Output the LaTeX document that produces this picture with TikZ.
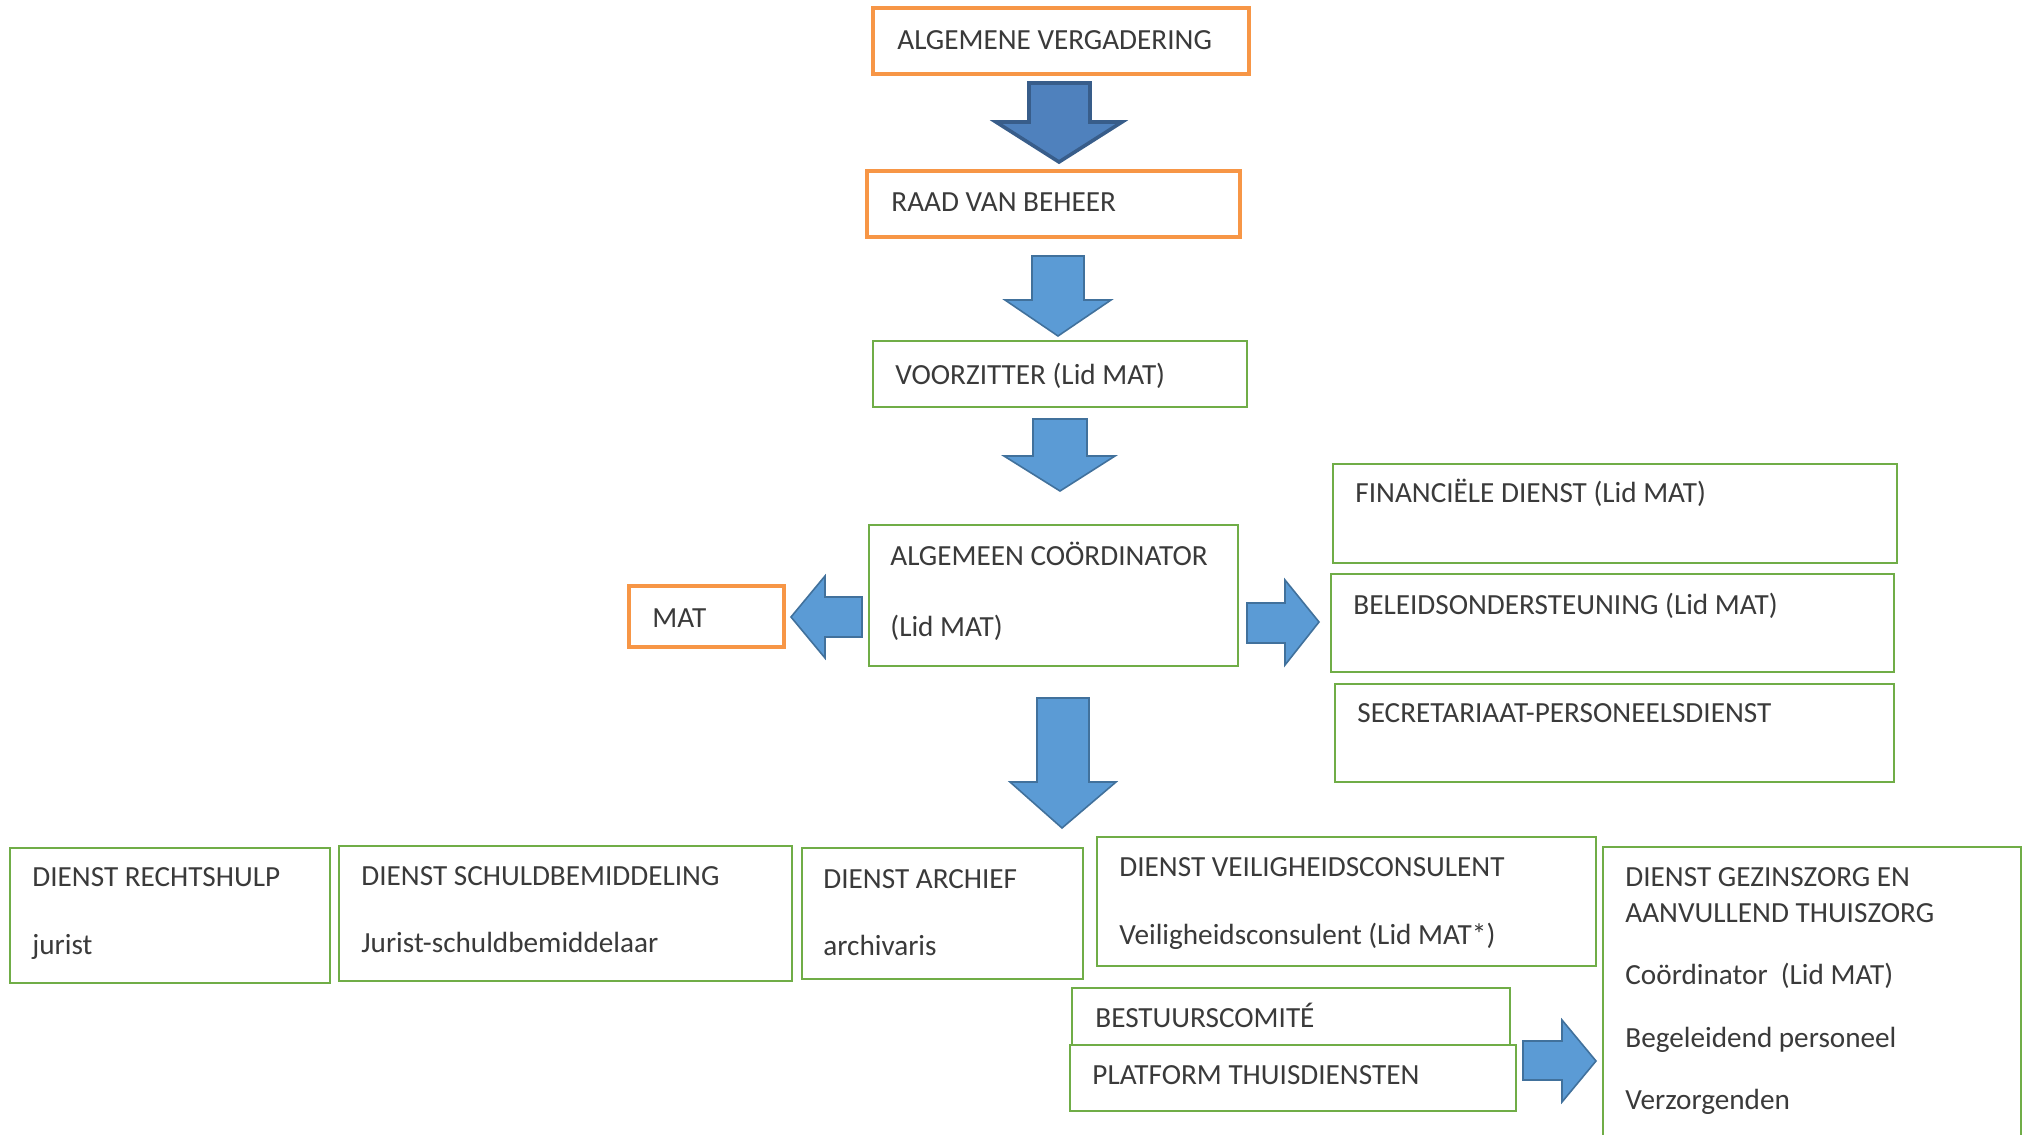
\documentclass[tikz,border=0pt]{standalone}
\usepackage{fontspec}
\setmainfont{Carlito}
\definecolor{txt}{HTML}{3A3A3A}
\definecolor{orng}{HTML}{F79646}
\definecolor{grn}{HTML}{70AD47}
\definecolor{afill}{HTML}{5B9BD5}
\definecolor{aline}{HTML}{41719C}
\definecolor{dfill}{HTML}{4F81BD}
\definecolor{dline}{HTML}{385D8A}
\begin{document}
\begin{tikzpicture}[x=0.5pt,y=-0.5pt,
  obox/.style={draw=orng,line width=2pt,fill=white},
  gbox/.style={draw=grn,line width=1.2pt,fill=white},
  lbl/.style={anchor=base west,inner sep=0pt,text=txt,font=\fontsize{14.6}{17}\selectfont},
  barrow/.style={fill=afill,draw=aline,line width=0.8pt,line join=miter},
  darrow/.style={fill=dfill,draw=dline,line width=1.8pt,line join=miter}]
\useasboundingbox (0,0) rectangle (2026,1135);

% boxes
\draw[obox] (873,8) rectangle (1249,74);
\node[lbl] (av) at (897,49) {ALGEMENE VERGADERING};
\draw[obox] (867,171) rectangle (1240,237);
\node[lbl] (rvb) at (891,211) {RAAD VAN BEHEER};
\draw[gbox] (873,341) rectangle (1247,407);
\node[lbl] (vz) at (895,384) {VOORZITTER (Lid MAT)};
\draw[gbox] (869,525) rectangle (1238,666);
\node[lbl] (ac1) at (890,565) {ALGEMEEN COÖRDINATOR};
\node[lbl] (ac2) at (890,636) {(Lid MAT)};
\draw[obox] (629,586) rectangle (784,647);
\node[lbl] (mat) at (652,627) {MAT};

\draw[gbox] (1333,464) rectangle (1897,563);
\node[lbl] (fin) at (1355,502) {FINANCIËLE DIENST (Lid MAT)};
\draw[gbox] (1331,574) rectangle (1894,672);
\node[lbl] (bel) at (1353,614) {BELEIDSONDERSTEUNING (Lid MAT)};
\draw[gbox] (1335,684) rectangle (1894,782);
\node[lbl] (sec) at (1357,722) {SECRETARIAAT-PERSONEELSDIENST};

\draw[gbox] (10,848) rectangle (330,983);
\node[lbl] (r1) at (32,886) {DIENST RECHTSHULP};
\node[lbl] (r2) at (32,954) {jurist};
\draw[gbox] (339,846) rectangle (792,981);
\node[lbl] (s1) at (361,885) {DIENST SCHULDBEMIDDELING};
\node[lbl] (s2) at (361,952) {Jurist-schuldbemiddelaar};
\draw[gbox] (802,848) rectangle (1083,979);
\node[lbl] (a1) at (823,888) {DIENST ARCHIEF};
\node[lbl] (a2) at (823,955) {archivaris};
\draw[gbox] (1097,837) rectangle (1596,966);
\node[lbl] (v1) at (1119,876) {DIENST VEILIGHEIDSCONSULENT};
\node[lbl] (v2) at (1119,944) {Veiligheidsconsulent (Lid MAT*)};
\draw[gbox] (1072,988) rectangle (1510,1060);
\node[lbl] (bc) at (1095,1027) {BESTUURSCOMITÉ};
\draw[gbox] (1070,1045) rectangle (1516,1111);
\node[lbl] (pt) at (1092,1084) {PLATFORM THUISDIENSTEN};
\draw[gbox] (1603,847) rectangle (2021,1150);
\node[lbl] (g1) at (1625,886) {DIENST GEZINSZORG EN};
\node[lbl] (g2) at (1625,922) {AANVULLEND THUISZORG};
\node[lbl] (g3) at (1625,984) {Coördinator\ \ (Lid MAT)};
\node[lbl] (g4) at (1625,1047) {Begeleidend personeel};
\node[lbl] (g5) at (1625,1109) {Verzorgenden};

% block arrows
\draw[darrow] (1029,83) -- (1090,83) -- (1090,122) -- (1122,122) -- (1059,162) -- (996,122) -- (1029,122) -- cycle;
\draw[barrow] (1032,256) -- (1084,256) -- (1084,300) -- (1111,300) -- (1058,336) -- (1005,300) -- (1032,300) -- cycle;
\draw[barrow] (1033,419) -- (1087,419) -- (1087,456) -- (1115,456) -- (1060,491) -- (1004,456) -- (1033,456) -- cycle;
\draw[barrow] (862,597) -- (862,637) -- (825,637) -- (825,658) -- (791,617) -- (825,576) -- (825,597) -- cycle;
\draw[barrow] (1247,603) -- (1285,603) -- (1285,580) -- (1319,622) -- (1285,665) -- (1285,643) -- (1247,643) -- cycle;
\draw[barrow] (1037,698) -- (1089,698) -- (1089,782) -- (1116,782) -- (1062,828) -- (1010,782) -- (1037,782) -- cycle;
\draw[barrow] (1523,1041) -- (1562,1041) -- (1562,1020) -- (1596,1061) -- (1562,1102) -- (1562,1080) -- (1523,1080) -- cycle;
\end{tikzpicture}
\end{document}
